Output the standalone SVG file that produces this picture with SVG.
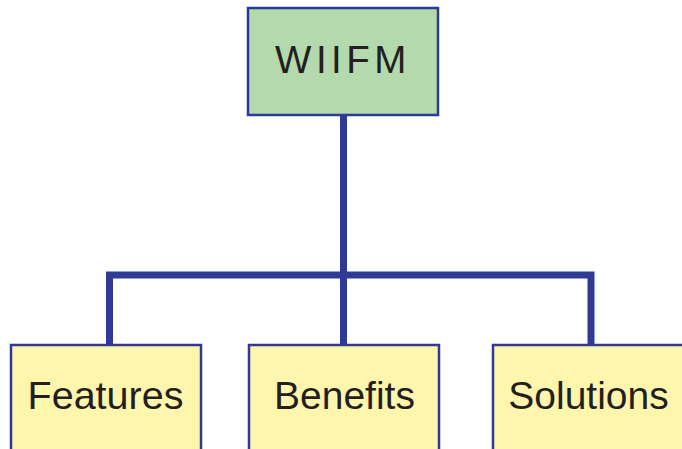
<svg xmlns="http://www.w3.org/2000/svg" width="682" height="449" viewBox="0 0 682 449">
<style>
.box{stroke:#2e3a96;stroke-width:2.5}
.top{fill:#b3d9ad}
.leaf{fill:#fff6ad}
.t{font-family:"Liberation Sans",Arial,sans-serif;fill:#231f20;text-anchor:middle}
.conn{stroke:#2e3a96;stroke-width:7;fill:none;stroke-linecap:square}
</style>
<rect width="682" height="449" fill="#ffffff"/>
<g id="connectors">
<line class="conn" x1="343.5" y1="116" x2="343.5" y2="275"/>
<polyline class="conn" points="109.5,343 109.5,275 591,275 591,343"/>
<line class="conn" x1="343.5" y1="275" x2="343.5" y2="343"/>
</g>
<g id="wiifm">
<rect class="box top" x="248" y="8" width="190" height="107"/>
<text class="t" x="343" y="73" font-size="38.5" letter-spacing="4.5">WIIFM</text>
</g>
<g id="features">
<rect class="box leaf" x="11" y="345" width="190" height="110"/>
<text class="t" x="105.5" y="409" font-size="39.5">Features</text>
</g>
<g id="benefits">
<rect class="box leaf" x="249" y="345" width="190" height="110"/>
<text class="t" x="344.5" y="409" font-size="39">Benefits</text>
</g>
<g id="solutions">
<rect class="box leaf" x="493" y="345" width="200" height="110"/>
<text class="t" x="588.5" y="409" font-size="39">Solutions</text>
</g>
</svg>
